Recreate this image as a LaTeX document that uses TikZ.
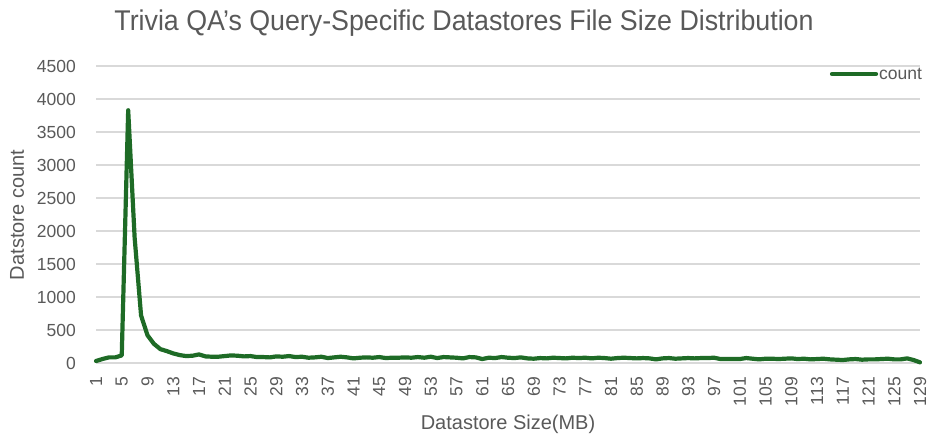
\documentclass[tikz,border=0pt]{standalone}
\usepackage{fontspec}
\setmainfont{Liberation Sans}
\newfontfamily\titlefont[FakeStretch=0.94]{Liberation Sans}
\usetikzlibrary{positioning}
\definecolor{countgreen}{RGB}{30,107,38}
\definecolor{labelgray}{RGB}{89,89,89}
\definecolor{gridgray}{RGB}{217,217,217}
\tikzset{
  gridline/.style={draw=gridgray, line width=1.2pt},
  countline/.style={draw=countgreen, line width=4.2pt, line join=round, line cap=round},
  ticklabel/.style={font=\fontsize{17.5}{20}\selectfont},
  axistitle/.style={font=\fontsize{20}{22}\selectfont}
}
\begin{document}
\begin{tikzpicture}[x=1pt, y=1pt]
      \useasboundingbox (0,0) rectangle (928,436);
      \begin{scope}[every node/.style={text=labelgray, inner sep=0pt}]
        \node[anchor=base] (title) at (464,405)
          {\fontsize{28.5}{30}\selectfont\titlefont Trivia QA’s Query-Specific Datastores File Size Distribution};
        % value axis
        \foreach \v [count=\k from 0] in {0,500,...,4500} {
          \path[gridline] (96,73+33*\k) -- (920,73+33*\k);
          \node[ticklabel, anchor=east] (yl\k) at (76,73+33*\k) {\v};
        }
        % size axis
        \foreach \c in {1,5,...,129}
          \node[ticklabel, rotate=90, anchor=east] (xl\c) at (96+6.4375*\c-6.4375,59) {\c};
        \node[axistitle, anchor=base] (xtitle) at (508,6) {Datastore Size(MB)};
        \node[axistitle, rotate=90] (ytitle) at (17,221) {Datstore count};
        \node[ticklabel, anchor=west] (legend) at (879,362) {count};
      \end{scope}
      \coordinate (legstart) at (832,362);
      \path[countline] (legstart) -- ([xshift=-3pt]legend.west);
      \begin{scope}[x=6.4375pt, y=0.066pt, shift={(89.5625pt,73pt)}]
        \path[countline] (1,30)
          \foreach \v [count=\i from 2] in {60,85,85,115,3830,1900,720,420,290,
            210,180,145,120,105,110,130,100,95,95,105,115,110,100,105,90,90,85,
            100,95,105,90,95,80,85,95,75,85,95,85,70,80,85,80,90,75,80,80,85,80,
            90,80,95,75,90,85,80,70,90,85,60,80,75,90,80,75,85,70,65,75,70,80,75,
            70,80,75,80,70,80,75,65,75,80,75,70,75,70,55,70,75,65,70,75,70,75,75,
            80,60,60,60,60,75,65,55,65,65,60,65,70,60,65,55,60,65,55,50,45,55,60,
            50,55,55,60,65,55,55,70,45,10} { -- (\i,\v) };
      \end{scope}
    \end{tikzpicture}
\end{document}
